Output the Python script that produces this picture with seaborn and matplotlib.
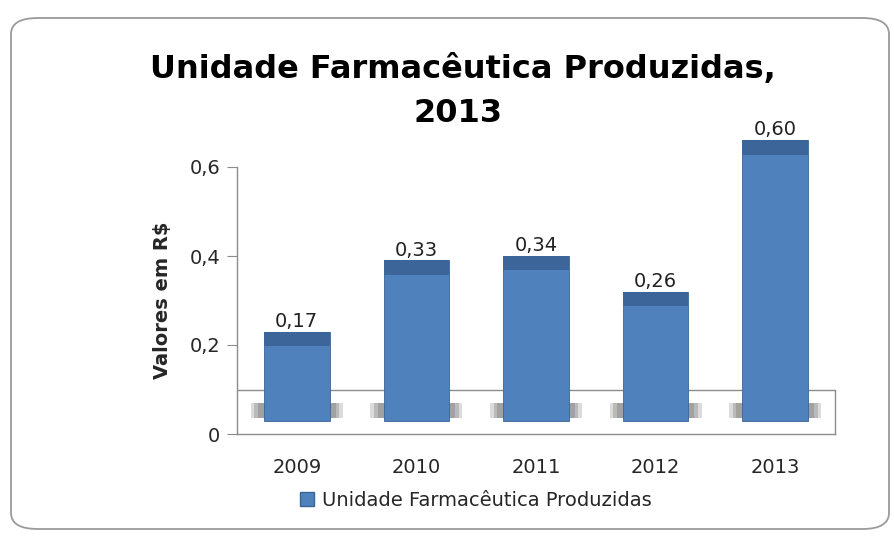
import numpy as np
import matplotlib
matplotlib.use("Agg")
import matplotlib.pyplot as plt
import seaborn as sns
from matplotlib.patches import Rectangle, FancyBboxPatch, Patch

anos = ["2009", "2010", "2011", "2012", "2013"]
valores = [0.17, 0.33, 0.34, 0.26, 0.60]
titulo = ["Unidade Farmacêutica Produzidas,", "2013"]
serie = "Unidade Farmacêutica Produzidas"
yticks = [0, 0.2, 0.4, 0.6]
ytick_labels = ["0", "0,2", "0,4", "0,6"]

sns.set_style("white")
plt.rcParams["font.family"] = ["DejaVu Sans"]

azul = "#4f81bd"
azul_topo = "#3c6699"
cinza = "#8c8c8c"

# efeito 3D do Excel: barras levantadas do chão
chao = 0.03
elev = 0.06

fig = plt.figure(figsize=(8.94, 5.36), dpi=100)
ax = fig.add_axes([237 / 894, 1 - 434 / 536, 598 / 894, (434 - 131.4) / 536])

# moldura arredondada
moldura = FancyBboxPatch((11 / 894, 7 / 536), 878 / 894, 511 / 536,
                         boxstyle="round,pad=0,rounding_size=0.03",
                         transform=fig.transFigure, facecolor="white",
                         edgecolor="#9a9a9a", linewidth=1.3, zorder=-10)
fig.patches.append(moldura)

alturas = [v + elev for v in valores]
sns.barplot(x=anos, y=alturas, color=azul, width=0.55, saturation=1,
            ax=ax, zorder=3)

for p, v in zip(ax.patches, valores):
    x0, w = p.get_x(), p.get_width()
    topo = p.get_height()
    p.set_y(chao)
    p.set_height(topo - chao)
    p.set_edgecolor("#3a6496")
    p.set_linewidth(0.6)
    # sombra no chão
    for k, a in [(0.11, 0.3), (0.08, 0.4), (0.05, 0.5)]:
        ax.add_patch(Rectangle((x0 - k, 0.037), w + 2 * k, 0.033,
                               facecolor="#8a8a8a", alpha=a, lw=0, zorder=2))
    # tampa mais escura
    ax.add_patch(Rectangle((x0, topo - 0.032), w, 0.032,
                           facecolor=azul_topo, edgecolor="none", zorder=4))
    ax.text(x0 + w / 2, topo + 0.002, f"{v:.2f}".replace(".", ","),
            ha="center", va="bottom", fontsize=14, color="#222222", zorder=5)

# chão / parede
ax.plot([-0.5, 4.5], [0.1, 0.1], color=cinza, lw=1, zorder=1)

ax.set_xlim(-0.5, 4.5)
ax.set_ylim(0, 0.68)
ax.set_yticks(yticks)
ax.set_yticklabels(ytick_labels, fontsize=14)
ax.set_xticks(range(len(anos)))
ax.set_xticklabels(anos, fontsize=14)
ax.set_xticks(np.arange(-0.5, 5, 1), minor=True)
ax.tick_params(axis="x", which="major", length=0, pad=17)
ax.tick_params(axis="x", which="minor", length=7, color=cinza, direction="out")
ax.tick_params(axis="y", length=7, color=cinza, direction="out", left=True, pad=5)

sns.despine(ax=ax, top=True, right=False)
ax.spines["left"].set_bounds(0, 0.6)
ax.spines["right"].set_bounds(0, 0.1)
for s in ["left", "bottom", "right"]:
    ax.spines[s].set_color(cinza)
    ax.spines[s].set_linewidth(1)

ax.set_ylabel("Valores em R$", fontsize=14, fontweight="bold")
ax.yaxis.set_label_coords(-0.108, 0.3 / 0.68)
ax.set_xlabel("")

fig.text(463 / 894, 1 - 69 / 536, titulo[0], ha="center", va="center",
         fontsize=23, fontweight="bold", color="black")
fig.text(458 / 894, 1 - 113 / 536, titulo[1], ha="center", va="center",
         fontsize=23, fontweight="bold", color="black")

fig.legend(handles=[Patch(facecolor=azul, edgecolor="#3a6496", label=serie)],
           loc="center", bbox_to_anchor=(476 / 894, 1 - 500 / 536),
           frameon=False, fontsize=14, handlelength=0.7, handleheight=0.7,
           handletextpad=0.4)

fig.savefig("out.png", dpi=100)
